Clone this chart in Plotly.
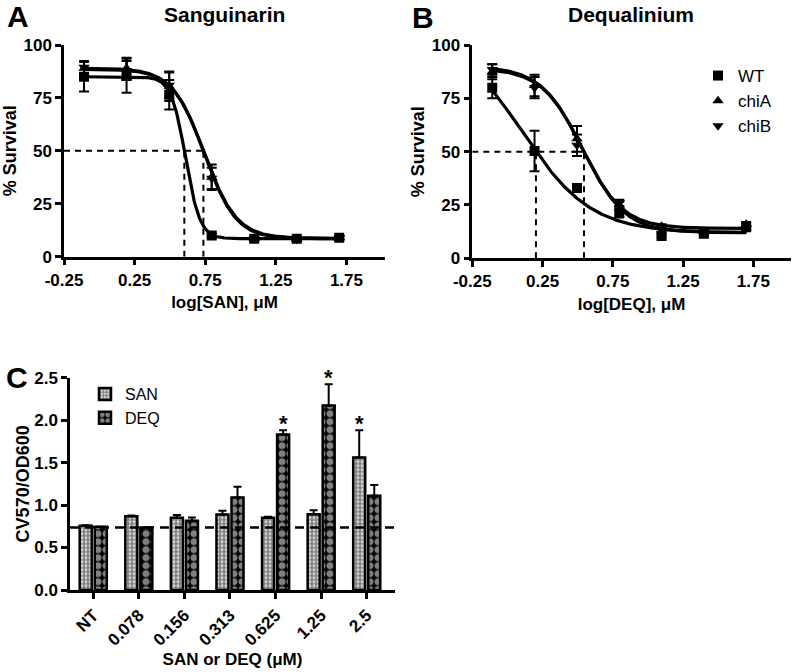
import numpy as np
import plotly.graph_objects as go

W, H = 797, 672

# ---------------- Panel A / B data (log concentration, % survival) ----------------
log_conc = [-0.108, 0.193, 0.495, 0.796, 1.097, 1.398, 1.699]
strains = ["WT", "chiA", "chiB"]
symbols = ["square", "triangle-up", "triangle-down"]

san_wt = [85, 85.5, 76.5, 10, 8.5, 8.5, 9]
san_wt_err = [7, 8, 7, 1, 0.6, 0.6, 0.8]
san_chiA = [89, 89, 80.5, 37.5, 8.5, 8.3, 9]
san_chiA_err = [3.5, 5, 7, 6, 0.6, 0.6, 0.8]
san_chiB = [89.5, 88, 81, 37, 8.5, 8.3, 9]
san_chiB_err = [3, 4.5, 6, 5, 0.6, 0.6, 0.8]

deq_wt = [80, 50.3, 33, 21, 10.5, 11.5, 14.5]
deq_wt_err = [5, 9.5, 1.5, 1.5, 0.8, 0.8, 0.8]
deq_chiA = [87.5, 81, 56, 25, 15, 12.5, 16]
deq_chiA_err = [3.5, 5, 6, 1.5, 1, 0.8, 1]
deq_chiB = [88.5, 80, 53, 26, 13.5, 12, 14]
deq_chiB_err = [2.5, 5, 5, 1.5, 1, 0.8, 1]

# four-parameter logistic fits: top, bottom, logIC50, hill
san_top = [85, 88.5, 89]
san_bottom = [8.5, 8.5, 8.7]
san_logc = [0.611, 0.745, 0.744]
san_hill = [8.5, 3.9, 3.8]

deq_top = [108, 89, 90]
deq_bottom = [12, 14, 12]
deq_logc = [0.098, 0.533, 0.537]
deq_hill = [1.75, 3.0, 2.9]

# 50 % survival reference lines
half_level = 50
san_half_x = [0.602, 0.737]
deq_half_x = [0.203, 0.545]

xticks_ab = [-0.25, 0.25, 0.75, 1.25, 1.75]
yticks_ab = [0, 25, 50, 75, 100]

# ---------------- Panel C data ----------------
doses = ["NT", "0.078", "0.156", "0.313", "0.625", "1.25", "2.5"]
san_cv = [0.757, 0.868, 0.852, 0.89, 0.852, 0.893, 1.56]
san_cv_err = [0.006, 0.01, 0.03, 0.042, 0.01, 0.047, 0.32]
deq_cv = [0.745, 0.735, 0.815, 1.09, 1.832, 2.172, 1.11]
deq_cv_err = [0.0, 0.0, 0.04, 0.125, 0.05, 0.25, 0.125]
san_sig = [False, False, False, False, False, False, True]
deq_sig = [False, False, False, False, True, True, False]
baseline_cv = 0.735

FONT = "Liberation Sans, Arial, sans-serif"


def px_x(p):
    return p / W


def px_y(p):
    return 1 - p / H


def logistic(x, top, bottom, logc, hill):
    return bottom + (top - bottom) / (1 + 10 ** ((x - logc) * hill))


fig = go.Figure()

panels = [
    ("x", "y", [san_wt, san_chiA, san_chiB], [san_wt_err, san_chiA_err, san_chiB_err],
     san_top, san_bottom, san_logc, san_hill, san_half_x, False),
    ("x2", "y2", [deq_wt, deq_chiA, deq_chiB], [deq_wt_err, deq_chiA_err, deq_chiB_err],
     deq_top, deq_bottom, deq_logc, deq_hill, deq_half_x, True),
]

for xa, ya, ys, errs, tops, bots, logcs, hills, halfx, show in panels:
    xs = np.linspace(log_conc[0], log_conc[-1], 300)
    # dashed 50% guides
    fig.add_trace(go.Scatter(x=[xticks_ab[0], max(halfx)], y=[half_level, half_level],
                             mode="lines", line=dict(color="black", width=2, dash="6px,5px"),
                             xaxis=xa, yaxis=ya, showlegend=False, hoverinfo="skip"))
    for hx in halfx:
        fig.add_trace(go.Scatter(x=[hx, hx], y=[0, half_level], mode="lines",
                                 line=dict(color="black", width=2, dash="6px,5px"),
                                 xaxis=xa, yaxis=ya, showlegend=False, hoverinfo="skip"))
    for i in range(3):
        fig.add_trace(go.Scatter(x=xs, y=logistic(xs, tops[i], bots[i], logcs[i], hills[i]),
                                 mode="lines", line=dict(color="black", width=3.2),
                                 xaxis=xa, yaxis=ya, showlegend=False, hoverinfo="skip"))
    for i in range(3):
        fig.add_trace(go.Scatter(x=log_conc, y=ys[i], mode="markers", name=strains[i],
                                 marker=dict(symbol=symbols[i], size=10, color="black"),
                                 error_y=dict(type="data", array=errs[i], color="black",
                                              thickness=2, width=5),
                                 xaxis=xa, yaxis=ya, showlegend=show, legend="legend"))

# ---------------- Panel C bars ----------------
bargap = 0.34
groupgap = 0.2
slot = (1 - bargap) / 2
xpos = list(range(len(doses)))

fig.add_trace(go.Bar(x=xpos, y=san_cv, name="SAN", xaxis="x3", yaxis="y3", legend="legend2",
                     marker=dict(color="white", line=dict(color="black", width=2.5),
                                 pattern=dict(shape=".", size=4, solidity=0.75,
                                              fgcolor="black", bgcolor="white")),
                     error_y=dict(type="data", symmetric=False, array=san_cv_err,
                                  arrayminus=[0] * len(doses), color="black",
                                  thickness=2, width=4)))
fig.add_trace(go.Bar(x=xpos, y=deq_cv, name="DEQ", xaxis="x3", yaxis="y3", legend="legend2",
                     marker=dict(color="black", line=dict(color="black", width=2.5),
                                 pattern=dict(shape=".", size=8, solidity=0.6,
                                              fgcolor="white", bgcolor="black")),
                     error_y=dict(type="data", symmetric=False, array=deq_cv_err,
                                  arrayminus=[0] * len(doses), color="black",
                                  thickness=2, width=4)))

# significance asterisks above the error bars
for vals, errs, sig, sgn in [(san_cv, san_cv_err, san_sig, -1), (deq_cv, deq_cv_err, deq_sig, 1)]:
    for i, (v, e, s) in enumerate(zip(vals, errs, sig)):
        if s:
            fig.add_annotation(x=i + sgn * slot / 2, y=v + e, xref="x3", yref="y3",
                               text="*", showarrow=False, yanchor="middle", yshift=7,
                               font=dict(family=FONT, size=22, color="black", weight="bold"))

fig.add_shape(type="line", xref="x3 domain", yref="y3", x0=0, x1=1, y0=baseline_cv,
              y1=baseline_cv, line=dict(color="black", width=2.5, dash="9px,6px"))

# ---------------- Axes ----------------
axis_common = dict(showline=True, linecolor="black", linewidth=2.5, ticks="outside",
                   tickwidth=2.5, ticklen=6, tickcolor="black", showgrid=False,
                   zeroline=False, automargin=False,
                   tickfont=dict(family=FONT, size=17, color="black", weight="bold"),
                   title_font=dict(family=FONT, size=17, color="black", weight="bold"))
ytitle_font = dict(family=FONT, size=18, color="black", weight="bold")

fig.update_layout(
    width=W, height=H, margin=dict(l=0, r=0, t=0, b=0),
    paper_bgcolor="white", plot_bgcolor="white",
    barmode="group", bargap=bargap, bargroupgap=groupgap,
    xaxis=dict(axis_common, domain=[px_x(64), px_x(385)], range=[-0.25, 2.023],
               tickvals=xticks_ab, ticktext=[f"{v:.2f}" for v in xticks_ab],
               title=dict(text="log[SAN], μM", standoff=8), anchor="y"),
    yaxis=dict(axis_common, domain=[px_y(256.7), px_y(45)], range=[0, 100],
               tickvals=yticks_ab, anchor="x",
               title=dict(text="% Survival", standoff=3, font=ytitle_font)),
    xaxis2=dict(axis_common, domain=[px_x(472.3), px_x(790.7)], range=[-0.25, 2.016],
                tickvals=xticks_ab, ticktext=[f"{v:.2f}" for v in xticks_ab],
                title=dict(text="log[DEQ], μM", standoff=8), anchor="y2"),
    yaxis2=dict(axis_common, domain=[px_y(258.3), px_y(45)], range=[0, 100],
                tickvals=yticks_ab, anchor="x2",
                title=dict(text="% Survival", standoff=3, font=ytitle_font)),
    xaxis3=dict(axis_common, domain=[px_x(70), px_x(395)], range=[-0.51, 6.62],
                tickvals=xpos, ticktext=doses, tickangle=-45,
                title=dict(text="SAN or DEQ (μM)", standoff=2), anchor="y3"),
    yaxis3=dict(axis_common, domain=[px_y(590), px_y(377.7)], range=[0, 2.5],
                tickvals=[0, 0.5, 1, 1.5, 2, 2.5], tickformat=".1f", anchor="x3",
                title=dict(text="CV570/OD600", standoff=0, font=ytitle_font)),
    legend=dict(x=px_x(698), y=px_y(58), xanchor="left", yanchor="top",
                font=dict(family=FONT, size=17, color="black"), bgcolor="rgba(0,0,0,0)"),
    legend2=dict(x=px_x(85), y=px_y(377), xanchor="left", yanchor="top",
                 font=dict(family=FONT, size=16, color="black"), bgcolor="rgba(0,0,0,0)"),
)

labels = [
    ("A", 18, 16, 30), ("B", 423, 17, 30), ("C", 17, 377, 30),
    ("Sanguinarin", 224, 14, 21), ("Dequalinium", 631, 14, 21),
]
for text, x, y, size in labels:
    fig.add_annotation(text=text, x=px_x(x), y=px_y(y), xref="paper", yref="paper",
                       showarrow=False, xanchor="center", yanchor="middle",
                       font=dict(family=FONT, size=size, color="black", weight="bold"))

fig.write_html("out.html", config={"displayModeBar": False},
               post_script="document.body.style.margin='0';")
